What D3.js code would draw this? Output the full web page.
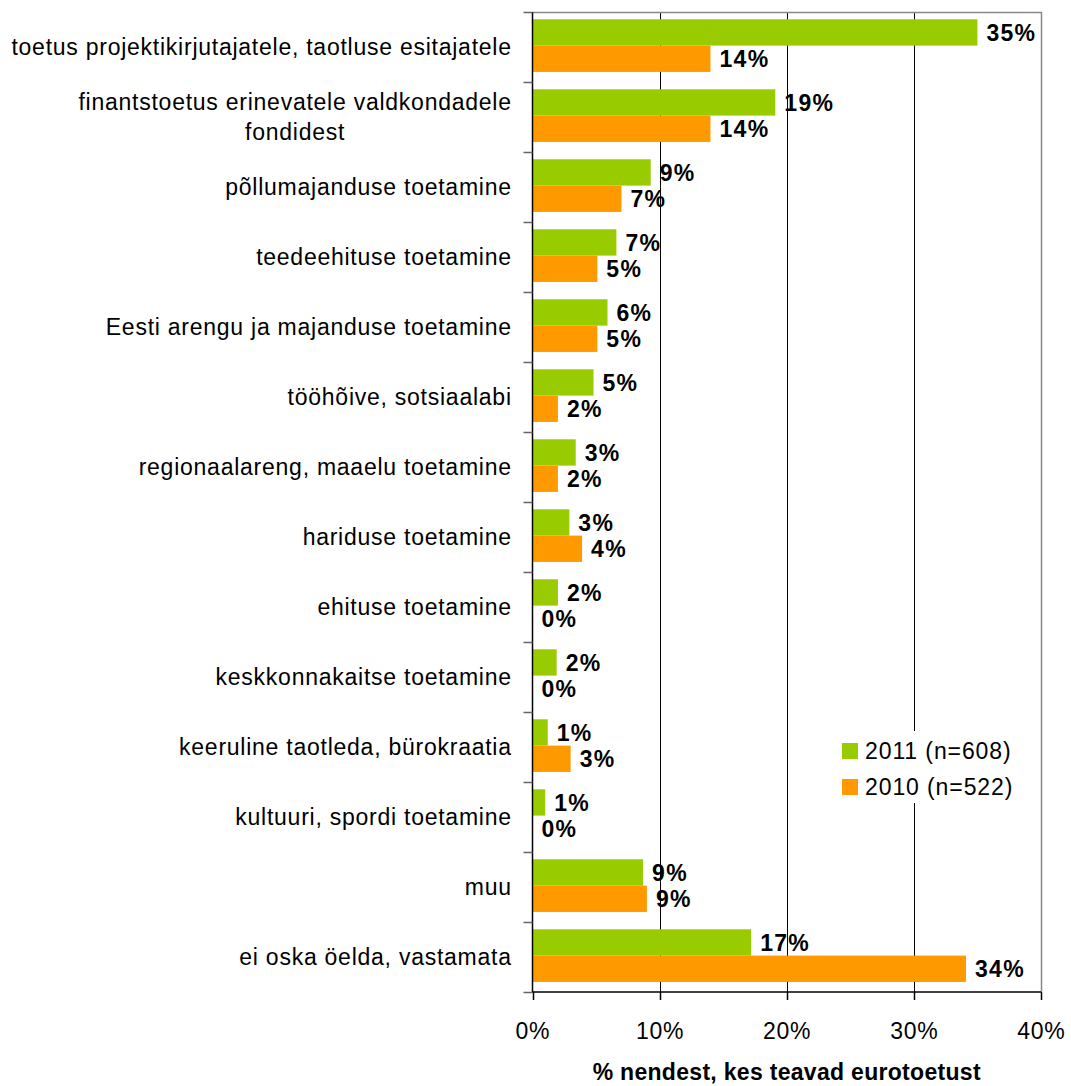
<!DOCTYPE html>
<html><head><meta charset="utf-8">
<script src="https://cdn.jsdelivr.net/npm/d3@7"></script>
<style>body{margin:0;background:#fff}svg{display:block}text{font-family:"Liberation Sans",Arial,sans-serif}</style>
</head><body>
<svg id="c" width="1071" height="1086"></svg>
<script>
const categories = [
  ["toetus projektikirjutajatele, taotluse esitajatele"],
  ["finantstoetus erinevatele valdkondadele","fondidest"],
  ["põllumajanduse toetamine"],
  ["teedeehituse toetamine"],
  ["Eesti arengu ja majanduse toetamine"],
  ["tööhõive, sotsiaalabi"],
  ["regionaalareng, maaelu toetamine"],
  ["hariduse toetamine"],
  ["ehituse toetamine"],
  ["keskkonnakaitse toetamine"],
  ["keeruline taotleda, bürokraatia"],
  ["kultuuri, spordi toetamine"],
  ["muu"],
  ["ei oska öelda, vastamata"]
];
const values2011 = [35.0,19.1,9.3,6.6,5.9,4.8,3.4,2.9,2.0,1.9,1.2,1.0,8.7,17.2];
const values2010 = [14.0,14.0,7.0,5.1,5.1,2.0,2.0,3.9,0,0,3.0,0,9.0,34.1];
const seriesNames = ["2011 (n=608)","2010 (n=522)"];
const seriesColors = ["#99CC00","#FF9900"];
const xTicks = [0,10,20,30,40];
const xTitle = "% nendest, kes teavad eurotoetust";

const svg = d3.select("#c");
const L=532.5, R=1041, T=12, B=992;
const FS = 23;
const LS = 0.75;
const x = d3.scaleLinear().domain([0,40]).range([L,R]);
const idx = categories.map((d,i)=>i);
const y = d3.scaleBand().domain(idx).range([T,B]).padding(0);
const ys = d3.scaleBand().domain([0,1]).range([0,y.bandwidth()]).paddingOuter(0.33).paddingInner(0).align(0.42);

// gridlines
svg.append("g").selectAll("line").data(xTicks.slice(1,4)).join("line")
  .attr("x1",d=>Math.round(x(d))+0.5).attr("x2",d=>Math.round(x(d))+0.5)
  .attr("y1",T).attr("y2",B).attr("stroke","#000").attr("stroke-width",1);
// top/right border
svg.append("path").attr("d",`M${L},${T+0.5}H${R+0.5}V${B}`).attr("fill","none").attr("stroke","#888").attr("stroke-width",1.5);

const data = [];
idx.forEach(i=>{ data.push({i,s:0,v:values2011[i]}); data.push({i,s:1,v:values2010[i]}); });

svg.append("g").selectAll("rect").data(data).join("rect")
  .attr("x",x(0)).attr("y",d=>y(d.i)+ys(d.s)).attr("width",d=>x(d.v)-x(0))
  .attr("height",ys.bandwidth()).attr("fill",d=>seriesColors[d.s]);

svg.append("g").selectAll("text").data(data).join("text")
  .attr("x",d=>x(d.v)+9).attr("y",d=>y(d.i)+ys(d.s)+ys.bandwidth()/2)
  .attr("dy","0.36em").attr("font-size",FS).attr("font-weight","bold").attr("letter-spacing",1.3)
  .text(d=>Math.round(d.v)+"%");

// left axis
const yAxis = svg.append("g");
yAxis.append("line").attr("x1",L).attr("x2",L).attr("y1",T).attr("y2",B).attr("stroke","#000").attr("stroke-width",1.5);
yAxis.selectAll("line.t").data(d3.range(categories.length+1)).join("line").attr("class","t")
  .attr("x1",L-9).attr("x2",L).attr("y1",d=>Math.round(T+d*y.step())+0.5).attr("y2",d=>Math.round(T+d*y.step())+0.5)
  .attr("stroke","#666").attr("stroke-width",1.5);
const LX = 511 + LS;
const cl = yAxis.selectAll("text").data(idx).join("text")
  .attr("text-anchor","end").attr("font-size",FS).attr("letter-spacing",LS).attr("fill","#000");
cl.each(function(i){
  const lines = categories[i];
  const t = d3.select(this);
  const cy = y(i)+y.bandwidth()/2;
  const lh = 30;
  t.append("tspan").attr("x",LX).attr("y",lines.length===1?cy:cy-lh/2).attr("dy","0.36em").text(lines[0]);
});
// centered second lines
idx.filter(i=>categories[i].length>1).forEach(i=>{
  const cy = y(i)+y.bandwidth()/2;
  const first = yAxis.selectAll("text").filter(d=>d===i).node();
  const w = first.getComputedTextLength();
  yAxis.append("text").attr("x",LX-w/2).attr("y",cy+15).attr("dy","0.36em")
    .attr("text-anchor","middle").attr("font-size",FS).attr("letter-spacing",LS).text(categories[i][1]);
});

// bottom axis
const xa = svg.append("g");
xa.append("line").attr("x1",L).attr("x2",R).attr("y1",B).attr("y2",B).attr("stroke","#000").attr("stroke-width",1.5);
xa.selectAll("line.t").data(xTicks).join("line").attr("class","t")
  .attr("x1",d=>Math.round(x(d))+0.5).attr("x2",d=>Math.round(x(d))+0.5).attr("y1",B).attr("y2",B+8)
  .attr("stroke","#000").attr("stroke-width",1.5);
xa.selectAll("text").data(xTicks).join("text")
  .attr("x",d=>x(d)+0.4).attr("y",1031).attr("dy","0.36em").attr("text-anchor","middle")
  .attr("font-size",FS).attr("letter-spacing",0.7).text(d=>d+"%");
svg.append("text").attr("x",(L+R)/2).attr("y",1072).attr("dy","0.36em").attr("text-anchor","middle")
  .attr("font-size",FS).attr("font-weight","bold").attr("letter-spacing",0.3).text(xTitle);

// legend
const lg = svg.append("g");
lg.append("rect").attr("x",832).attr("y",731).attr("width",195).attr("height",72).attr("fill","#fff");
seriesNames.forEach((n,k)=>{
  const cy = 751 + k*36;
  lg.append("rect").attr("x",842).attr("y",cy-8).attr("width",16).attr("height",16).attr("fill",seriesColors[k]);
  lg.append("text").attr("x",865).attr("y",cy).attr("dy","0.36em").attr("font-size",FS).attr("letter-spacing",0.9).text(n);
});
</script>
</body></html>
